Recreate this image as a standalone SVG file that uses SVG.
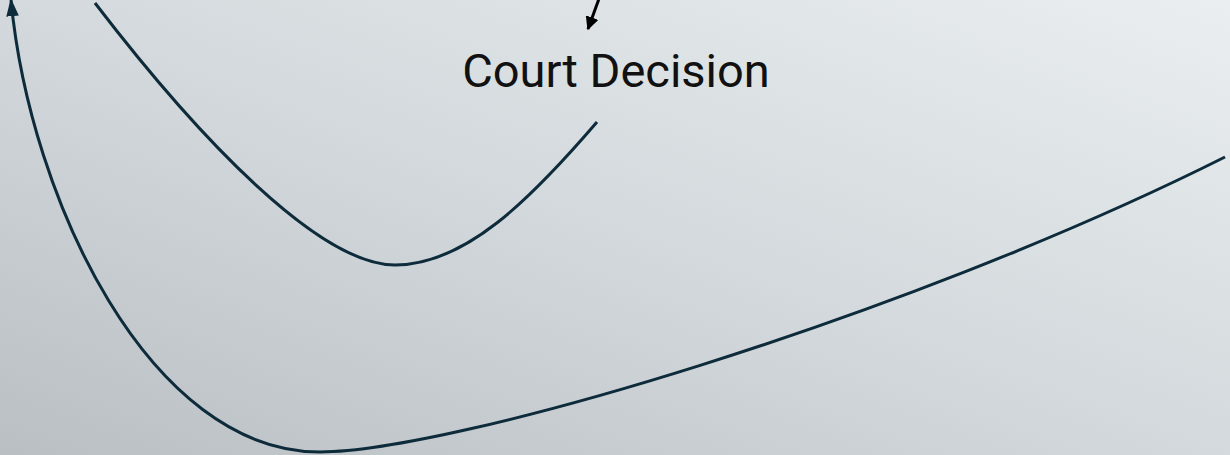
<svg xmlns="http://www.w3.org/2000/svg" width="1230" height="455" viewBox="0 0 1230 455">
<defs>
<linearGradient id="bg" x1="0" y1="1" x2="1" y2="0">
<stop offset="0" stop-color="#b9bfc3"/>
<stop offset="0.5" stop-color="#d3d9dc"/>
<stop offset="1" stop-color="#eaeef1"/>
</linearGradient>
<marker id="ah" viewBox="0 0 10 10" refX="9" refY="5" markerWidth="4.5" markerHeight="4.5" orient="auto-start-reverse" markerUnits="strokeWidth">
<path d="M0,0 L10,5 L0,10 z" fill="#000"/>
</marker>
<marker id="ah2" viewBox="0 0 10 10" refX="9" refY="5" markerWidth="6" markerHeight="6" orient="auto-start-reverse" markerUnits="strokeWidth">
<path d="M0,1.5 L10,5 L0,8.5 z" fill="#0d2b3a"/>
</marker>
<style>
.curve{fill:none;stroke:#0d2b3a;stroke-width:3}
.lbl{font-family:Roboto,"Liberation Sans",sans-serif;font-size:47px;fill:#111}
</style>
</defs>
<rect width="1230" height="455" fill="url(#bg)"/>
<g id="connectors">
<path class="curve" d="M95,3 C200,140 320,265 395,265 C465,265 530,200 597,122"/>
<path class="curve" marker-start="url(#ah2)" d="M11,0 C30,200 150,452 320,452 C450,452 900,320 1225,157"/>
<path d="M600,-4 L588,29" fill="none" stroke="#000" stroke-width="3" marker-end="url(#ah)"/>
</g>
<g id="court-decision">
<text class="lbl" x="616" y="87" text-anchor="middle">Court Decision</text>
</g>
</svg>
